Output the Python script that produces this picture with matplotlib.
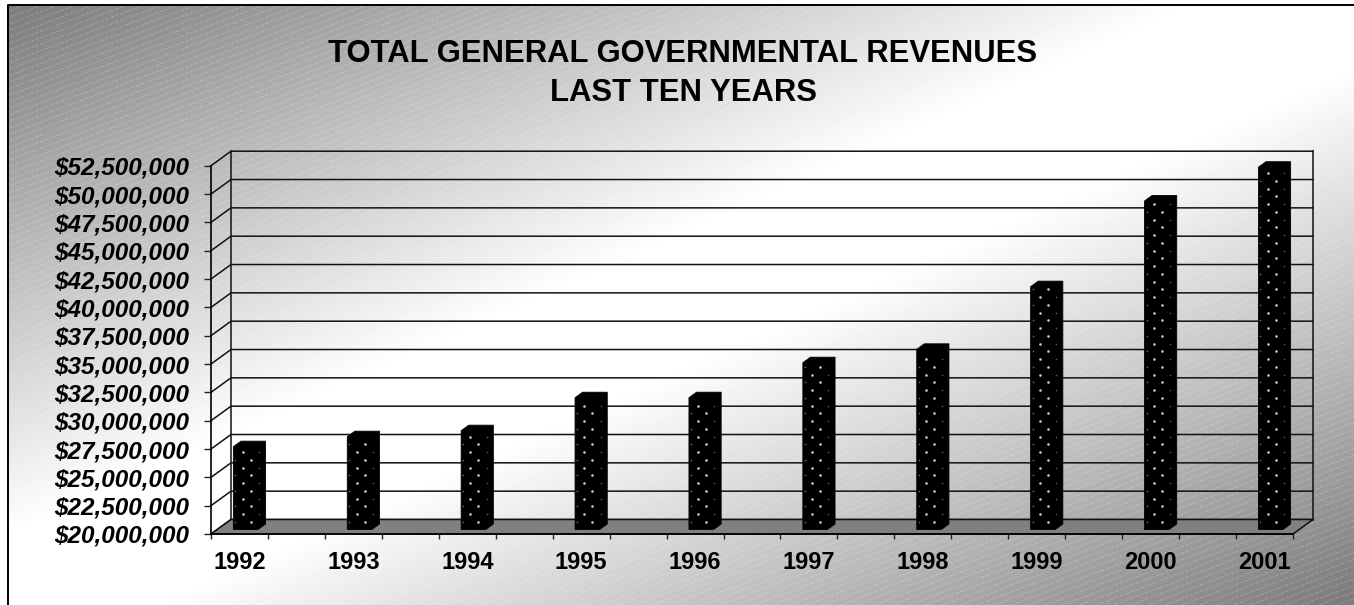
#!/usr/bin/env python3
"""Total general governmental revenues, pseudo-3D columns on a banded backdrop."""

import numpy as np
import matplotlib; matplotlib.use("Agg")
import matplotlib.pyplot as plt
import matplotlib.ticker as ticker
from matplotlib.patches import Polygon

years = [1992, 1993, 1994, 1995, 1996, 1997, 1998, 1999, 2000, 2001]
revenues = [27310000, 28190000, 28720000, 31630000, 31630000,
            34720000, 35900000, 41430000, 48990000, 51970000]
y_ticks = list(range(20000000, 52500001, 2500000))
title_lines = ["TOTAL GENERAL GOVERNMENTAL REVENUES", "LAST TEN YEARS"]

W, H = 1354, 605
FONT = "Liberation Sans"

# front plane of the chart box, in pixels
LEFT, RIGHT, TOP, BOTTOM = 211, 1293, 165.7, 534
N_SLOTS = 19                       # two slots per year, minus the trailing one
Y_MIN, Y_MAX = y_ticks[0], y_ticks[-1]
PX_X = N_SLOTS / (RIGHT - LEFT)    # x units per pixel
PX_Y = (Y_MAX - Y_MIN) / (BOTTOM - TOP)
DEPTH_X = 20 * PX_X                # box depth in data units
DEPTH_Y = 14.5 * PX_Y
BAR_W = 24.6 * PX_X
BAR_FRONT, BAR_BACK = 0.31, 0.69   # where the columns sit within the depth


def backdrop():
    """Diagonal grey-white-grey gradient with a faint dashed weave."""
    yy, xx = np.mgrid[0:H, 0:W].astype(float)
    t = (xx / W + yy / H) / 2
    v = 122 + 133 * np.minimum(1, 1.12 * (1 - np.abs(2 * t - 1)))
    weave = ((yy + 0.38 * xx) % 6.5 < 1.2) & (xx % 5 < 3.5)
    v = v + (255 - v) * 0.14 * weave
    return np.clip(v, 0, 255) / 255


def depth(x, y, frac):
    return x + DEPTH_X * frac, y + DEPTH_Y * frac


def draw_box(ax):
    kw = dict(color="#111111", lw=1.1, clip_on=False, zorder=2)
    for val in y_ticks:
        x0, y0 = depth(0, val, 0)
        x1, y1 = depth(0, val, 1)
        x2, _ = depth(N_SLOTS, val, 1)
        ax.plot([x0, x1, x2], [y0, y1, y1], **kw)
    x_back, y_low = depth(0, Y_MIN, 1)
    x_end, y_high = depth(N_SLOTS, Y_MAX, 1)
    ax.plot([x_back, x_back], [y_low, y_high], **kw)
    ax.plot([x_end, x_end], [y_low, y_high], **kw)
    floor = [(0, Y_MIN), (N_SLOTS, Y_MIN), (x_end, y_low), (x_back, y_low)]
    ax.add_patch(Polygon(floor, closed=True, fc="#808080", ec="#111111", lw=1.1,
                         clip_on=False, zorder=3))


def draw_column(ax, slot, value):
    x0, base = depth(slot, Y_MIN, BAR_FRONT)
    _, top = depth(slot, value, BAR_FRONT)
    x1 = x0 + BAR_W
    dx = DEPTH_X * (BAR_BACK - BAR_FRONT)
    dy = DEPTH_Y * (BAR_BACK - BAR_FRONT)
    shape = [(x0, base), (x1, base), (x1 + dx, base + dy), (x1 + dx, top + dy),
             (x0 + dx, top + dy), (x0, top)]
    ax.add_patch(Polygon(shape, closed=True, fc="black", ec="black", lw=0.6,
                         clip_on=False, zorder=4))

    # staggered speckle on the front and side faces
    heights = np.arange(7.7, (top - base) / PX_Y - 2, 7.75)
    for i, h in enumerate(heights):
        yy = base + h * PX_Y
        if i % 2 == 0:
            ax.scatter([x0 + 17.3 * PX_X], [yy], s=3.5, c="#cccccc", lw=0, zorder=5, clip_on=False)
            ax.scatter([x0 + 2 * PX_X], [yy], s=1.5, c="#666666", lw=0, zorder=5, clip_on=False)
        else:
            ax.scatter([x0 + 9.3 * PX_X], [yy], s=3.5, c="#cccccc", lw=0, zorder=5, clip_on=False)
            ax.scatter([x0 + 25.5 * PX_X], [yy], s=1.5, c="#555555", lw=0, zorder=5, clip_on=False)


def main():
    fig = plt.figure(figsize=(W / 100, H / 100), dpi=100, facecolor="white")

    bg = fig.add_axes([0, 0, 1, 1], zorder=0)
    bg.imshow(backdrop(), cmap="gray", vmin=0, vmax=1, extent=(0, W, H, 0),
              aspect="auto", interpolation="nearest")
    bg.set_xlim(0, W)
    bg.set_ylim(H, 0)
    bg.axis("off")
    # outer frame: white margin, then a black rule along the top and left
    bg.fill_between([0, W], 0, 4.5, color="white", lw=0, zorder=2)
    bg.fill_betweenx([0, H], 0, 7, color="white", lw=0, zorder=2)
    bg.plot([7.5, 7.5, W], [H, 5, 5], color="black", lw=1.4, zorder=3)

    bg.text(683, 54.5, title_lines[0], ha="center", va="center", family=FONT,
            weight="bold", fontsize=22.3, color="black")
    bg.text(683, 93, title_lines[1], ha="center", va="center", family=FONT,
            weight="bold", fontsize=22.3, color="black")

    ax = fig.add_axes([LEFT / W, 1 - BOTTOM / H, (RIGHT - LEFT) / W, (BOTTOM - TOP) / H],
                      zorder=1)
    ax.patch.set_alpha(0)
    ax.set_xlim(0, N_SLOTS)
    ax.set_ylim(Y_MIN, Y_MAX)
    for side in ("top", "right"):
        ax.spines[side].set_visible(False)
    for side in ("left", "bottom"):
        ax.spines[side].set_linewidth(1.2)
        ax.spines[side].set_zorder(6)

    ax.set_yticks(y_ticks)
    ax.yaxis.set_major_formatter(ticker.FuncFormatter(lambda v, _: f"${v:,.0f}"))
    ax.tick_params(axis="y", length=5, width=1, pad=10.5, color="#222222")
    for lab in ax.get_yticklabels():
        lab.set(family=FONT, weight="bold", style="italic", fontsize=17.5, color="black")

    ax.set_xticks(np.arange(0, N_SLOTS + 1))
    ax.set_xticklabels([])
    ax.tick_params(axis="x", which="major", length=3.6, width=1, color="#222222")
    slots = [2 * i + 0.5 for i in range(len(years))]
    ax.set_xticks(slots, minor=True)
    ax.set_xticklabels([str(y) for y in years], minor=True)
    ax.tick_params(axis="x", which="minor", length=0, pad=12.3)
    for lab in ax.get_xticklabels(minor=True):
        lab.set(family=FONT, weight="bold", fontsize=17, color="black")

    draw_box(ax)
    for i, value in enumerate(revenues):
        draw_column(ax, 2 * i + 0.5 - BAR_W / 2, value)

    fig.savefig("out.png", dpi=100, facecolor="white")
    plt.close(fig)


if __name__ == "__main__":
    main()
